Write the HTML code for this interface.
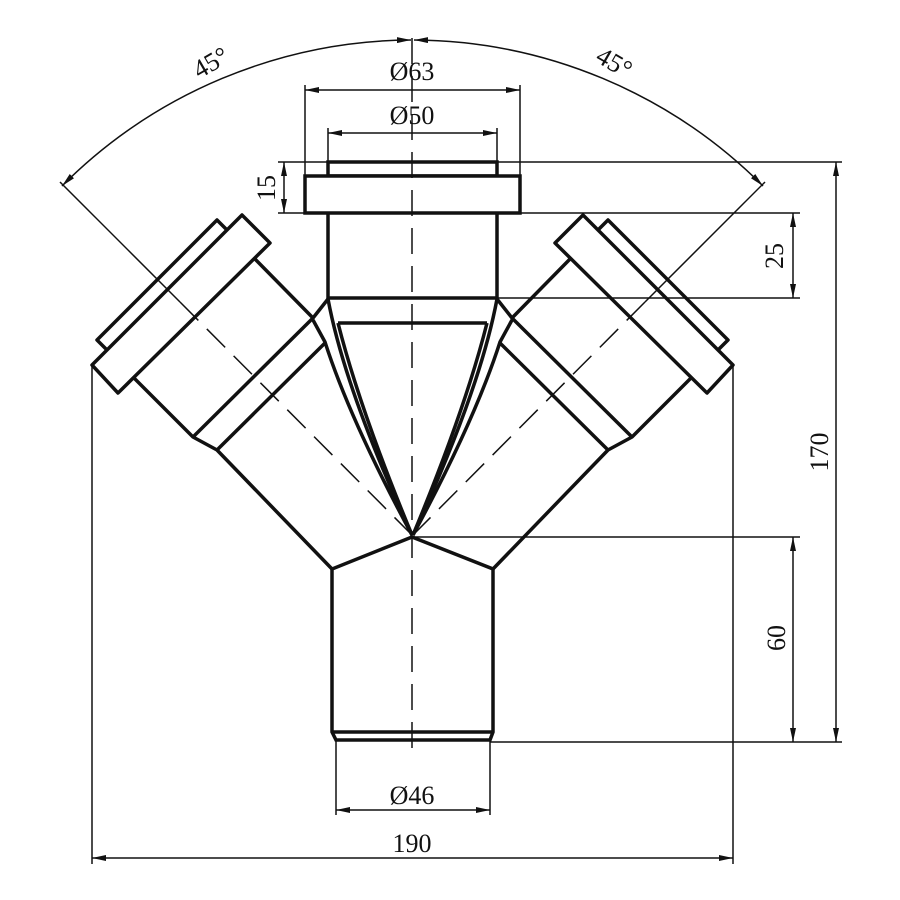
<!DOCTYPE html>
<html><head><meta charset="utf-8"><style>
html,body{margin:0;padding:0;background:#fff;}
svg{display:block}
text{font-family:"Liberation Serif",serif;font-size:26px;fill:#111}
</style></head><body>
<svg width="900" height="900" viewBox="0 0 900 900" xmlns="http://www.w3.org/2000/svg">
<defs>
<marker id="a" viewBox="0 0 14 6" refX="14" refY="3" markerWidth="14" markerHeight="6" markerUnits="userSpaceOnUse" orient="auto-start-reverse"><path d="M0,0 L14,3 L0,6 z" fill="#111"/></marker>
<g id="br" fill="none" stroke="#111" stroke-width="3.5" stroke-linejoin="round">
  <polygon points="270,243 242,215 92,365 118,393" fill="#fff"/>
  <polyline points="227,230 217,220 97,340 107,350"/>
  <polyline points="254,258 313,318 328,299"/>
  <polyline points="134,378 193,437 217,450 332,569"/>
  <line x1="313" y1="318" x2="193" y2="437"/>
  <line x1="325" y1="343" x2="217" y2="450"/>
  <path d="M328,299 Q345,390 412,535"/>
  <path d="M313,320 L325,342 Q350,420 412,535"/>
  <path d="M338,323 Q360,410 412,535"/>
</g>
<g id="brc" fill="none" stroke="#111" stroke-width="1.5">
  <line x1="60" y1="182" x2="180" y2="302"/>
  <line x1="180" y1="302" x2="412" y2="535" stroke-dasharray="26,12"/>
</g>
</defs>
<g fill="none" stroke="#111" stroke-width="3.5">
  <rect x="328" y="162" width="169" height="14"/>
  <rect x="305" y="176" width="215" height="37" fill="#fff"/>
  <polyline points="328,213 328,298 497,298 497,213"/>
  <line x1="338" y1="323" x2="487" y2="323"/>
  <polyline points="412,537 332,569 332,732 336,740 490,740 493,732 493,569 412,537"/>
  <line x1="332" y1="732" x2="493" y2="732"/>
</g>
<use href="#br"/>
<use href="#br" transform="translate(825,0) scale(-1,1)"/>
<use href="#brc"/>
<use href="#brc" transform="translate(825,0) scale(-1,1)"/>
<line x1="412" y1="38" x2="412" y2="752" stroke="#111" stroke-width="1.5" stroke-dasharray="26,12"/>
<g fill="none" stroke="#111" stroke-width="1.5">
  <path d="M62,186 A497,497 0 0 1 411,40" marker-start="url(#a)" marker-end="url(#a)"/>
  <path d="M763,186 A497,497 0 0 0 414,40" marker-start="url(#a)" marker-end="url(#a)"/>
  <line x1="305" y1="176" x2="305" y2="85"/><line x1="520" y1="176" x2="520" y2="85"/>
  <line x1="305" y1="90" x2="520" y2="90" marker-start="url(#a)" marker-end="url(#a)"/>
  <line x1="328" y1="162" x2="328" y2="128"/><line x1="497" y1="162" x2="497" y2="128"/>
  <line x1="328" y1="133" x2="497" y2="133" marker-start="url(#a)" marker-end="url(#a)"/>
  <line x1="278" y1="162" x2="328" y2="162"/><line x1="278" y1="213" x2="305" y2="213"/>
  <line x1="284" y1="162" x2="284" y2="213" marker-start="url(#a)" marker-end="url(#a)"/>
  <line x1="497" y1="162" x2="842" y2="162"/>
  <line x1="520" y1="213" x2="800" y2="213"/>
  <line x1="497" y1="298" x2="800" y2="298"/>
  <line x1="793" y1="213" x2="793" y2="298" marker-start="url(#a)" marker-end="url(#a)"/>
  <line x1="836" y1="162" x2="836" y2="742" marker-start="url(#a)" marker-end="url(#a)"/>
  <line x1="412" y1="537" x2="800" y2="537"/>
  <line x1="490" y1="742" x2="842" y2="742"/>
  <line x1="793" y1="537" x2="793" y2="742" marker-start="url(#a)" marker-end="url(#a)"/>
  <line x1="336" y1="740" x2="336" y2="815"/><line x1="490" y1="740" x2="490" y2="815"/>
  <line x1="336" y1="810" x2="490" y2="810" marker-start="url(#a)" marker-end="url(#a)"/>
  <line x1="92" y1="365" x2="92" y2="864"/><line x1="733" y1="365" x2="733" y2="864"/>
  <line x1="92" y1="858" x2="733" y2="858" marker-start="url(#a)" marker-end="url(#a)"/>
</g>
<text x="412" y="80" text-anchor="middle">Ø63</text>
<text x="412" y="124" text-anchor="middle">Ø50</text>
<text x="412" y="804" text-anchor="middle">Ø46</text>
<text x="412" y="852" text-anchor="middle">190</text>
<text transform="translate(275,188) rotate(-90)" text-anchor="middle">15</text>
<text transform="translate(783,256) rotate(-90)" text-anchor="middle">25</text>
<text transform="translate(828,452) rotate(-90)" text-anchor="middle">170</text>
<text transform="translate(785,638) rotate(-90)" text-anchor="middle">60</text>
<text transform="translate(215,70) rotate(-30)" text-anchor="middle">45°</text>
<text transform="translate(610,70) rotate(30)" text-anchor="middle">45°</text>
</svg>
</body></html>
